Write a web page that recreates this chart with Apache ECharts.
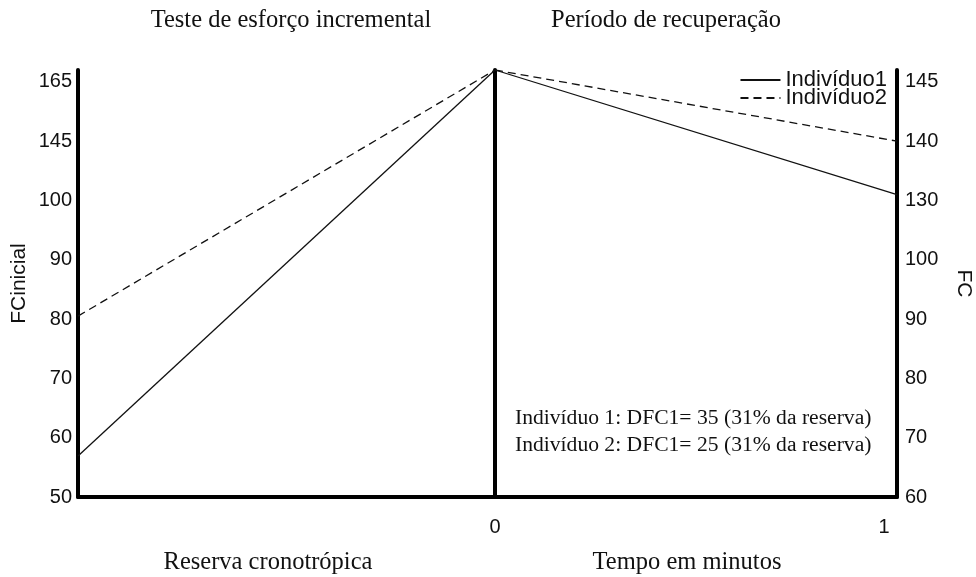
<!DOCTYPE html>
<html>
<head>
<meta charset="utf-8">
<script src="https://cdn.jsdelivr.net/npm/echarts@6/dist/echarts.min.js"></script>
<style>html,body{margin:0;padding:0;background:#fff}#c{width:976px;height:577px}</style>
</head>
<body>
<div id="c"></div>
<script>
// Tick labels (ordinal, evenly spaced axes)
const leftTicks = [50, 60, 70, 80, 90, 100, 145, 165];
const rightTicks = [60, 70, 80, 90, 100, 130, 140, 145];
const xLeft = [-1, 0];   // reserva cronotrópica: start -> peak
const xRight = [0, 1];   // tempo em minutos
const seriesNames = ['Indivíduo1', 'Indivíduo2'];
// Heart rate readings (left panel, left-axis units)
const ind1Left = [56.9, 169];
const ind2Left = [80.5, 169];
// Recovery (right panel, right-axis units)
const ind1Right = [146, 131];
const ind2Right = [146, 140];

function toPos(v, ticks) {
  const n = ticks.length;
  for (let i = 0; i < n - 1; i++) {
    if (v <= ticks[i + 1] || i === n - 2) {
      return i + (v - ticks[i]) / (ticks[i + 1] - ticks[i]);
    }
  }
}
const pair = (xs, ys, ticks) => xs.map((x, i) => [x, toPos(ys[i], ticks)]);

const SANS = 'Liberation Sans';
const AXMAX = 7.2;
const axisLineStyle = { show: true, onZero: false, lineStyle: { color: '#000', width: 4 } };

const chart = echarts.init(document.getElementById('c'), null, { renderer: 'canvas' });
chart.setOption({
  animation: false,
  backgroundColor: '#fff',
  grid: [
    { left: 78, right: 481, top: 70, bottom: 80 },
    { left: 495, right: 79, top: 70, bottom: 80 }
  ],
  legend: {
    orient: 'vertical', right: 84, top: 64, itemWidth: 40, itemHeight: 12, itemGap: -4,
    data: seriesNames,
    itemStyle: { opacity: 0 },
    textStyle: { fontFamily: SANS, fontSize: 22, color: '#111' }
  },
  xAxis: [
    { gridIndex: 0, type: 'value', min: -1, max: 0, axisLine: axisLineStyle,
      axisTick: { show: false }, axisLabel: { show: false }, splitLine: { show: false } },
    { gridIndex: 1, type: 'value', min: 0, max: 1, interval: 1, axisLine: axisLineStyle,
      axisTick: { show: false }, splitLine: { show: false },
      axisLabel: { fontFamily: SANS, fontSize: 20, color: '#111', margin: 20,
        formatter: v => v === 1 ? '{m|1}' : String(v),
        rich: { m: { fontFamily: SANS, fontSize: 20, color: '#111', padding: [0, 26, 0, 0] } } } }
  ],
  yAxis: [
    { gridIndex: 0, type: 'value', min: 0, max: AXMAX, interval: 1, position: 'left',
      axisLine: axisLineStyle, axisTick: { show: false }, splitLine: { show: false },
      axisLabel: { fontFamily: SANS, fontSize: 20, color: '#111', margin: 6,
        formatter: v => (Number.isInteger(v) && leftTicks[v] !== undefined) ? String(leftTicks[v]) : '' },
      name: 'FCinicial', nameLocation: 'middle', nameGap: 48,
      nameTextStyle: { fontFamily: SANS, fontSize: 21, color: '#111' } },
    { gridIndex: 0, type: 'value', min: 0, max: AXMAX, position: 'right',
      axisLine: axisLineStyle, axisTick: { show: false }, splitLine: { show: false },
      axisLabel: { show: false } },
    { gridIndex: 1, type: 'value', min: 0, max: AXMAX, interval: 1, position: 'right',
      axisLine: axisLineStyle, axisTick: { show: false }, splitLine: { show: false },
      axisLabel: { fontFamily: SANS, fontSize: 20, color: '#111', margin: 8,
        formatter: v => (Number.isInteger(v) && rightTicks[v] !== undefined) ? String(rightTicks[v]) : '' },
      name: 'FC', nameLocation: 'middle', nameGap: 56, nameRotate: -90,
      nameTextStyle: { fontFamily: SANS, fontSize: 21, color: '#111' } }
  ],
  series: [
    { name: seriesNames[0], type: 'line', xAxisIndex: 0, yAxisIndex: 0, symbol: 'none',
      lineStyle: { color: '#111', width: 1.3, type: 'solid' }, itemStyle: { color: '#111' },
      data: pair(xLeft, ind1Left, leftTicks) },
    { name: seriesNames[1], type: 'line', xAxisIndex: 0, yAxisIndex: 0, symbol: 'none',
      lineStyle: { color: '#111', width: 1.3, type: [8, 5] }, itemStyle: { color: '#111' },
      data: pair(xLeft, ind2Left, leftTicks) },
    { name: seriesNames[0], type: 'line', xAxisIndex: 1, yAxisIndex: 2, symbol: 'none',
      lineStyle: { color: '#111', width: 1.3, type: 'solid' }, itemStyle: { color: '#111' },
      data: pair(xRight, ind1Right, rightTicks) },
    { name: seriesNames[1], type: 'line', xAxisIndex: 1, yAxisIndex: 2, symbol: 'none',
      lineStyle: { color: '#111', width: 1.3, type: [8, 5] }, itemStyle: { color: '#111' },
      data: pair(xRight, ind2Right, rightTicks) }
  ],
  graphic: [
    { type: 'text', x: 291, y: 21, style: { text: 'Teste de esforço incremental', font: '24.5px "Liberation Serif"', fill: '#111', textAlign: 'center', textVerticalAlign: 'middle' } },
    { type: 'text', x: 666, y: 21, style: { text: 'Período de recuperação', font: '24.5px "Liberation Serif"', fill: '#111', textAlign: 'center', textVerticalAlign: 'middle' } },
    { type: 'text', x: 268, y: 563, style: { text: 'Reserva cronotrópica', font: '24.5px "Liberation Serif"', fill: '#111', textAlign: 'center', textVerticalAlign: 'middle' } },
    { type: 'text', x: 687, y: 563, style: { text: 'Tempo em minutos', font: '24.5px "Liberation Serif"', fill: '#111', textAlign: 'center', textVerticalAlign: 'middle' } },
    { type: 'text', x: 515, y: 418, style: { text: 'Indivíduo 1: DFC1= 35 (31% da reserva)', font: '21.6px "Liberation Serif"', fill: '#111', textAlign: 'left', textVerticalAlign: 'middle' } },
    { type: 'text', x: 515, y: 445, style: { text: 'Indivíduo 2: DFC1= 25 (31% da reserva)', font: '21.6px "Liberation Serif"', fill: '#111', textAlign: 'left', textVerticalAlign: 'middle' } }
  ]
});
</script>
</body>
</html>
